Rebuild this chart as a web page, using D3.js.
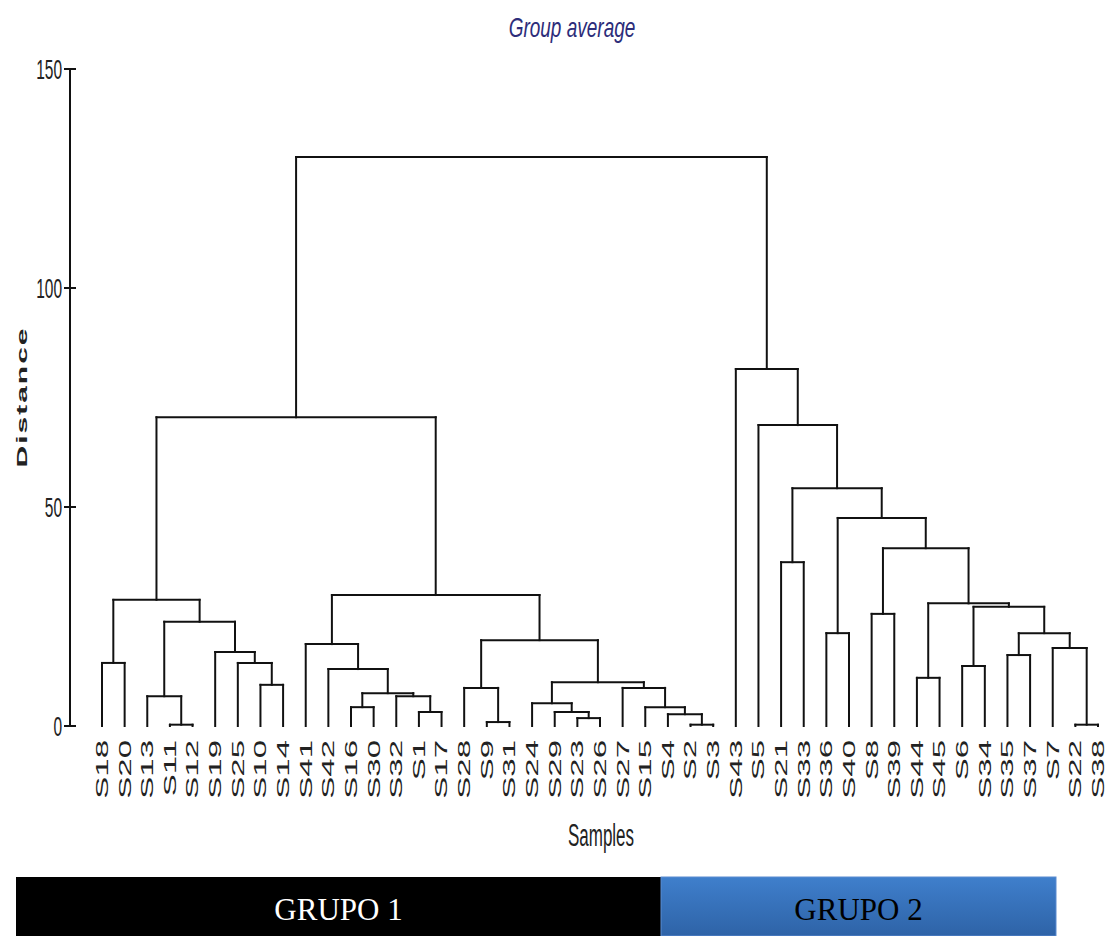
<!DOCTYPE html>
<html>
<head>
<meta charset="utf-8">
<title>Group average</title>
<script src="https://cdn.jsdelivr.net/npm/d3@7"></script>
<style>
  body { margin: 0; background: #fff; }
  svg { display: block; }
  .link { stroke: #111; stroke-width: 2; fill: none; stroke-linecap: square; }
</style>
</head>
<body>
<div id="chart"></div>
<script>
// leaf order as drawn along the x axis
const leaves = ["S18","S20","S13","S11","S12","S19","S25","S10","S14","S41","S42","S16","S30","S32","S1","S17",
  "S28","S9","S31","S24","S29","S23","S26","S27","S15","S4","S2","S3",
  "S43","S5","S21","S33","S36","S40","S8","S39","S44","S45","S6","S34","S35","S37","S7","S22","S38"];

// merges: [id, left child, right child, distance]
const group1Merges = [
  ["m1","S11","S12",0.3], ["m2","S13","m1",6.8], ["m3","S10","S14",9.4], ["m4","S25","m3",14.4],
  ["m5","S19","m4",16.9], ["m6","m2","m5",23.8], ["m7","S18","S20",14.4], ["m8","m7","m6",28.8],
  ["m9","S16","S30",4.3], ["m10","S1","S17",3.2], ["m11","S32","m10",6.8], ["m12","m9","m11",7.5],
  ["m13","S42","m12",13.0], ["m14","S41","m13",18.7], ["m15","S9","S31",0.9], ["m16","S28","m15",8.7],
  ["m17","S23","S26",1.8], ["m18","S29","m17",3.2], ["m19","S24","m18",5.2], ["m20","S2","S3",0.3],
  ["m21","S4","m20",2.7], ["m22","S15","m21",4.3], ["m23","S27","m22",8.7], ["m24","m19","m23",10.0],
  ["m25","m16","m24",19.6], ["m26","m14","m25",29.9], ["m27","m8","m26",70.5]
];
const group2Merges = [
  ["g1","S21","S33",37.4], ["g2","S36","S40",21.2], ["g3","S8","S39",25.6], ["g4","S44","S45",11.0],
  ["g5","S6","S34",13.7], ["g6","S35","S37",16.2], ["g7","S22","S38",0.3], ["g8","S7","g7",17.8],
  ["g9","g6","g8",21.2], ["g10","g5","g9",27.2], ["g11","g4","g10",28.0], ["g12","g3","g11",40.6],
  ["g13","g2","g12",47.5], ["g14","g1","g13",54.3], ["g15","S5","g14",68.7], ["g16","S43","g15",81.5]
];
const rootMerge = ["root","m27","g16",129.9];

const yTicks = [0, 50, 100, 150];
const groups = ["GRUPO 1", "GRUPO 2"];

document.addEventListener("DOMContentLoaded", function() {
    const width = 1111, height = 936;
    const svg = d3.select("#chart").append("svg").attr("width", width).attr("height", height);

    const x = d3.scalePoint().domain(leaves).range([102, 1098]);
    const y = d3.scaleLinear().domain([0, 150]).range([726, 69]);

    // build nested tree from merge table
    const nodes = new Map(leaves.map(n => [n, { name: n, h: 0 }]));
    [...group1Merges, ...group2Merges, rootMerge].forEach(([id, a, b, h]) => {
        nodes.set(id, { name: id, h: h, children: [nodes.get(a), nodes.get(b)] });
    });
    const root = d3.hierarchy(nodes.get("root"));
    root.eachAfter(d => {
        d.px = d.children ? d3.mean(d.children, c => c.px) : x(d.data.name);
    });

    // dendrogram links
    const g = svg.append("g");
    root.each(d => {
        if (!d.children) return;
        const [l, r] = d.children;
        g.append("line").attr("class", "link").attr("x1", l.px).attr("x2", r.px).attr("y1", y(d.data.h)).attr("y2", y(d.data.h));
        d.children.forEach(c => {
            g.append("line").attr("class", "link").attr("x1", c.px).attr("x2", c.px).attr("y1", y(d.data.h)).attr("y2", y(c.data.h));
        });
    });

    // y axis
    const axis = svg.append("g");
    axis.append("line").attr("x1", 70).attr("x2", 70).attr("y1", y(150)).attr("y2", y(0)).attr("stroke", "#111").attr("stroke-width", 2);
    yTicks.forEach(t => {
        axis.append("line").attr("x1", 64).attr("x2", 76).attr("y1", y(t)).attr("y2", y(t)).attr("stroke", "#111").attr("stroke-width", 2);
        axis.append("text").attr("transform", `translate(62,${y(t) + 10}) scale(1,1.8)`)
            .attr("text-anchor", "end").style("font", "15.5px 'Liberation Sans', Arial, sans-serif").attr("fill", "#222").text(t);
    });

    svg.append("text").attr("transform", "translate(27,397) rotate(-90) scale(2,1)")
        .attr("text-anchor", "middle").style("font", "bold 15px 'Liberation Sans', Arial, sans-serif")
        .style("letter-spacing", "1px").attr("fill", "#222").text("Distance");

    // leaf labels
    svg.append("g").selectAll("text").data(leaves).join("text")
        .attr("transform", d => `translate(${x(d)},740) rotate(-90) scale(2,1)`)
        .attr("text-anchor", "end").attr("dy", "0.36em")
        .style("font", "16.5px 'Liberation Sans', Arial, sans-serif").attr("fill", "#222")
        .text(d => d);

    svg.append("text").attr("transform", "translate(601,846) scale(1,1.8)")
        .attr("text-anchor", "middle").style("font", "17px 'Liberation Sans', Arial, sans-serif").attr("fill", "#222").text("Samples");

    svg.append("text").attr("transform", "translate(572,37) scale(1,1.45)")
        .attr("text-anchor", "middle").style("font", "italic 19px 'Liberation Sans', Arial, sans-serif").attr("fill", "#2d2d7a").text("Group average");

    // group bars at bottom
    const grad = svg.append("defs").append("linearGradient").attr("id", "blueGrad").attr("x1", 0).attr("x2", 0).attr("y1", 0).attr("y2", 1);
    grad.append("stop").attr("offset", "0%").attr("stop-color", "#3f7fcc");
    grad.append("stop").attr("offset", "100%").attr("stop-color", "#2e63a7");

    const bars = [{ x0: 16, x1: 661, fill: "#000", text: "#fff" }, { x0: 661, x1: 1056, fill: "url(#blueGrad)", text: "#000" }];
    bars.forEach((b, i) => {
        svg.append("rect").attr("x", b.x0).attr("y", 877).attr("width", b.x1 - b.x0).attr("height", height - 877)
            .attr("fill", b.fill).attr("stroke", i ? "#5b8bd0" : "none");
        svg.append("text").attr("x", (b.x0 + b.x1) / 2).attr("y", 920).attr("text-anchor", "middle")
            .style("font", "31px 'Liberation Serif', 'Times New Roman', serif").attr("fill", b.text).text(groups[i]);
    });
});
</script>
</body>
</html>
